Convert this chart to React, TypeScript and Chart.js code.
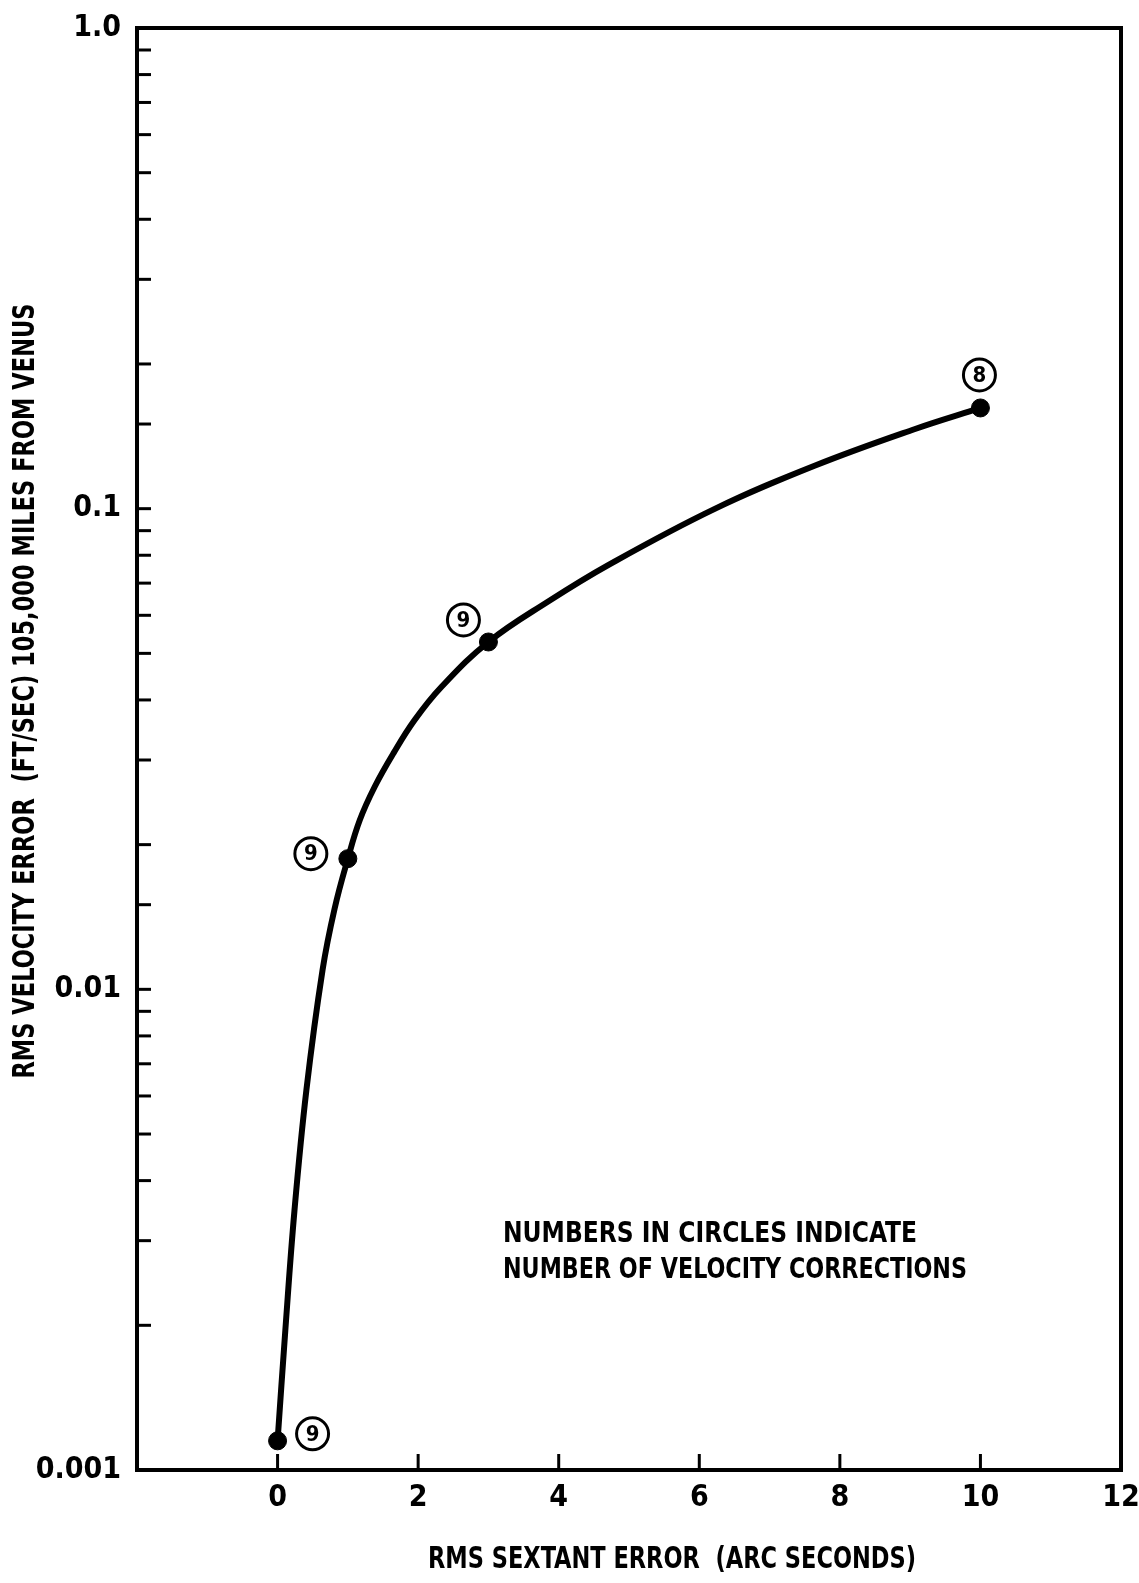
import React, { useEffect, useRef } from 'react';
import { Chart, registerables } from 'chart.js';

Chart.register(...registerables);

const W = 1139;
const H = 1583;

// ---- data ----
const markerX = [0, 1, 3, 10];
const markerY = [0.00115, 0.0187, 0.0528, 0.162];
const correctionCounts = ['9', '9', '9', '8'];

const curveX = [0, 0.11, 0.24, 0.41, 0.64, 0.81, 1, 1.17, 1.38, 1.65, 1.95, 2.33, 3, 3.85, 4.71, 6.22, 7.64, 9.06, 10];
const curveY = [
  0.00115, 0.00195, 0.00346, 0.00617, 0.01097, 0.01469, 0.0187, 0.0225, 0.02636, 0.031, 0.03633, 0.04255, 0.0528,
  0.0641, 0.0764, 0.0999, 0.1228, 0.1463, 0.162,
];

const xMin = -2;
const xMax = 12;
const xStep = 2;
const yMin = 0.001;
const yMax = 1;
const yTickLabels = ['0.001', '0.01', '0.1', '1.0'];

const xTitle = 'RMS SEXTANT ERROR  (ARC SECONDS)';
const yTitle = 'RMS VELOCITY ERROR  (FT/SEC) 105,000 MILES FROM VENUS';
const noteLines = ['NUMBERS IN CIRCLES INDICATE', 'NUMBER OF VELOCITY CORRECTIONS'];

// ---- styles / layout ----
const FONT = '"Liberation Sans Narrow", "DejaVu Sans Condensed", "Liberation Sans", Arial, sans-serif';
const labelOffsets = [
  [35, -7],
  [-37, -5],
  [-25, -22],
  [-1, -33],
];

function fitText(
  ctx: CanvasRenderingContext2D,
  text: string,
  cx: number,
  cy: number,
  width: number,
  font: string,
  rotate = false
) {
  ctx.save();
  ctx.font = font;
  const w = ctx.measureText(text).width;
  ctx.translate(cx, cy);
  if (rotate) ctx.rotate(-Math.PI / 2);
  ctx.scale(width / w, 1);
  ctx.textAlign = 'center';
  ctx.textBaseline = 'middle';
  ctx.fillStyle = '#000';
  ctx.fillText(text, 0, 0);
  ctx.restore();
}

const zeroPad = (s: any) => {
  s.paddingLeft = 0;
  s.paddingRight = 0;
  s.paddingTop = 0;
  s.paddingBottom = 0;
};

const decorPlugin = {
  id: 'decor',
  afterDraw(chart: any) {
    const { ctx, chartArea: a, scales } = chart;
    const xs = scales.x;
    const ys = scales.y;
    ctx.save();
    ctx.strokeStyle = '#000';
    ctx.lineCap = 'butt';
    // inward ticks
    ctx.lineWidth = 3;
    xs.ticks.forEach((t: any) => {
      if (t.value <= xMin || t.value >= xMax) return;
      const px = xs.getPixelForValue(t.value);
      ctx.beginPath();
      ctx.moveTo(px, a.bottom);
      ctx.lineTo(px, a.bottom - 16);
      ctx.stroke();
    });
    ys.ticks.forEach((t: any) => {
      if (t.value <= yMin * 1.0001 || t.value >= yMax * 0.9999) return;
      const py = ys.getPixelForValue(t.value);
      ctx.beginPath();
      ctx.moveTo(a.left, py);
      ctx.lineTo(a.left + 14, py);
      ctx.stroke();
    });
    // frame
    ctx.lineWidth = 4;
    ctx.strokeRect(a.left, a.top, a.right - a.left, a.bottom - a.top);

    // circled counts
    const meta = chart.getDatasetMeta(1);
    meta.data.forEach((pt: any, i: number) => {
      const [dx, dy] = labelOffsets[i];
      const cx = pt.x + dx;
      const cy = pt.y + dy;
      ctx.lineWidth = 3;
      ctx.beginPath();
      ctx.arc(cx, cy, 16, 0, Math.PI * 2);
      ctx.stroke();
      ctx.fillStyle = '#000';
      ctx.font = `bold 22px ${FONT}`;
      ctx.textAlign = 'center';
      ctx.textBaseline = 'middle';
      ctx.fillText(correctionCounts[i], cx, cy + 1);
    });
    ctx.restore();

    // titles and note
    const titleFont = `bold 31px ${FONT}`;
    fitText(ctx, xTitle, 672, 1560, 488, titleFont);
    fitText(ctx, yTitle, 26, 691, 775, titleFont, true);
    const noteFont = `bold 29px ${FONT}`;
    fitText(ctx, noteLines[0], 503 + 414 / 2, 1234, 414, noteFont);
    fitText(ctx, noteLines[1], 503 + 464 / 2, 1270, 464, noteFont);
  },
};

export default function App() {
  const ref = useRef<HTMLCanvasElement>(null);

  useEffect(() => {
    const canvas = ref.current;
    if (!canvas) return;
    const tickFont = { family: FONT, size: 30, weight: 'bold' as const };
    const chart = new Chart(canvas, {
      type: 'scatter',
      data: {
        datasets: [
          {
            label: 'curve',
            data: curveX.map((x, i) => ({ x, y: curveY[i] })),
            showLine: true,
            borderColor: '#000',
            borderWidth: 6,
            pointRadius: 0,
            tension: 0.4,
            order: 2,
          },
          {
            label: 'runs',
            data: markerX.map((x, i) => ({ x, y: markerY[i] })),
            showLine: false,
            backgroundColor: '#000',
            borderColor: '#000',
            pointRadius: 9,
            order: 1,
          },
        ],
      },
      options: {
        responsive: false,
        animation: false,
        devicePixelRatio: 1,
        layout: { padding: { top: 28, right: 18, left: 0, bottom: 0 } },
        plugins: {
          legend: { display: false },
          tooltip: { enabled: false },
        },
        scales: {
          x: {
            type: 'linear',
            min: xMin,
            max: xMax,
            afterFit: (s: any) => {
              s.height = 113;
              zeroPad(s);
            },
            grid: { display: false, drawTicks: false },
            border: { display: false },
            ticks: {
              stepSize: xStep,
              autoSkip: false,
              maxRotation: 0,
              padding: 10,
              color: '#000',
              font: tickFont,
              callback: (v: any) => (v === xMin ? '' : String(v)),
            },
          },
          y: {
            type: 'logarithmic',
            min: yMin,
            max: yMax,
            afterFit: (s: any) => {
              s.width = 137;
              zeroPad(s);
            },
            grid: { display: false, drawTicks: false },
            border: { display: false },
            ticks: {
              autoSkip: false,
              padding: 16,
              color: '#000',
              font: tickFont,
              callback: (v: any) => {
                const l = Math.log10(Number(v));
                if (Math.abs(l - Math.round(l)) < 1e-6) {
                  return yTickLabels[Math.round(l) + 3] ?? '';
                }
                return '';
              },
            },
          },
        },
      },
      plugins: [decorPlugin],
    } as any);
    return () => chart.destroy();
  }, []);

  return (
    <div style={{ position: 'absolute', left: 0, top: 0, width: W, height: H, background: '#fff' }}>
      <canvas ref={ref} width={W} height={H} style={{ display: 'block', width: W, height: H }} />
    </div>
  );
}
